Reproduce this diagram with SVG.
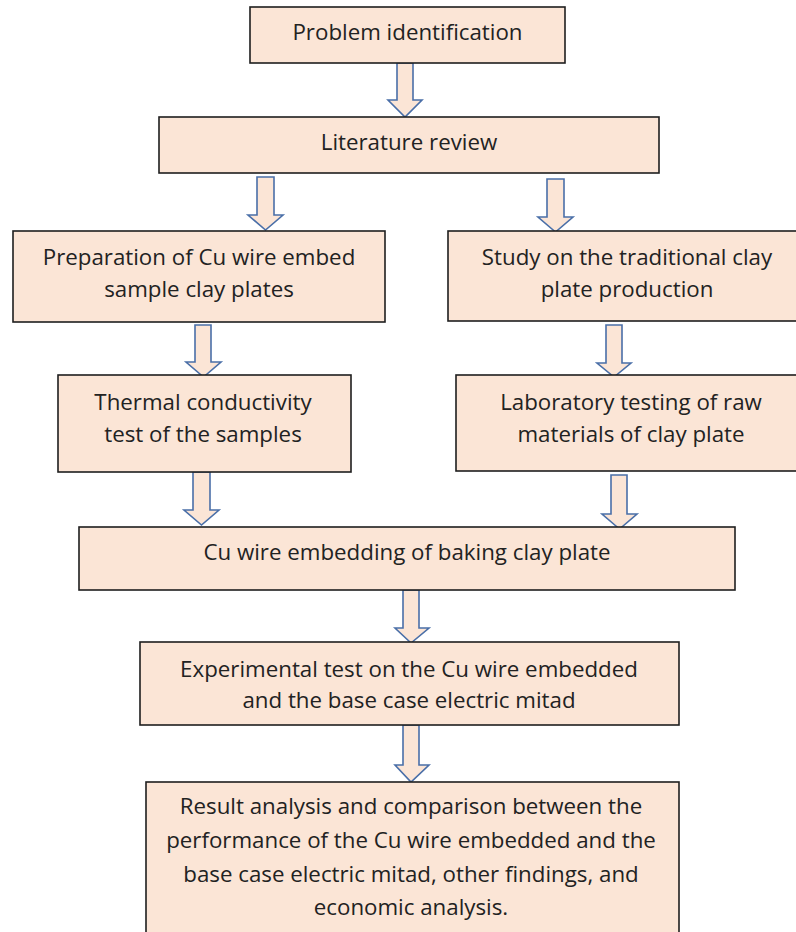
<svg xmlns="http://www.w3.org/2000/svg" width="796" height="932" viewBox="0 0 796 932">
<defs>
<style>
.box{fill:#FBE5D6;stroke:#1f1f1f;stroke-width:1.6}
.arr{fill:#FBE5D6;stroke:#4A6FA8;stroke-width:1.6;stroke-linejoin:miter}
text{font-family:"Open Sans","Noto Sans","Liberation Sans",sans-serif;font-size:22.3px;fill:#222222;text-anchor:middle}
</style>
</defs>
<rect width="796" height="932" fill="#ffffff"/>
<g id="connectors">
<path class="arr" d="M397,63 H413 V100 H422 L405,117 L388,100 H397 Z"/>
<path class="arr" d="M257,177 H274 V215 H283 L265.5,230 L248,215 H257 Z"/>
<path class="arr" d="M547,179 H564 V217 H573 L555.5,232 L538,217 H547 Z"/>
<path class="arr" d="M195,325 H211 V362 H221 L203.5,377 L186,362 H195 Z"/>
<path class="arr" d="M606,325 H622 V363 H631 L614,377 L597,363 H606 Z"/>
<path class="arr" d="M193,472 H210 V510 H219 L201.5,525 L184,510 H193 Z"/>
<path class="arr" d="M611,475 H627 V514 H637 L619.5,529 L602,514 H611 Z"/>
<path class="arr" d="M403,590 H419 V628 H429 L411,643 L395,628 H403 Z"/>
<path class="arr" d="M403,725 H419 V765 H429 L411,782 L395,765 H403 Z"/>
</g>
<g id="n1">
<rect class="box" x="250" y="7" width="315" height="56"/>
<text x="407.5" y="40">Problem identification</text>
</g>
<g id="n2">
<rect class="box" x="159" y="117" width="500" height="56"/>
<text x="409" y="150">Literature review</text>
</g>
<g id="n3">
<rect class="box" x="13" y="231" width="372" height="91"/>
<text x="199" y="265">Preparation of Cu wire embed</text>
<text x="199" y="297">sample clay plates</text>
</g>
<g id="n4">
<rect class="box" x="448" y="231" width="360" height="90"/>
<text x="627" y="265">Study on the traditional clay</text>
<text x="627" y="297">plate production</text>
</g>
<g id="n5">
<rect class="box" x="58" y="375" width="293" height="97"/>
<text x="203" y="410">Thermal conductivity</text>
<text x="203" y="442">test of the samples</text>
</g>
<g id="n6">
<rect class="box" x="456" y="375" width="352" height="96"/>
<text x="631" y="410">Laboratory testing of raw</text>
<text x="631" y="442">materials of clay plate</text>
</g>
<g id="n7">
<rect class="box" x="79" y="527" width="656" height="63"/>
<text x="407" y="560">Cu wire embedding of baking clay plate</text>
</g>
<g id="n8">
<rect class="box" x="140" y="642" width="539" height="83"/>
<text x="409" y="677">Experimental test on the Cu wire embedded</text>
<text x="409" y="708">and the base case electric mitad</text>
</g>
<g id="n9">
<rect class="box" x="146" y="782" width="533" height="160"/>
<text x="411" y="814">Result analysis and comparison between the</text>
<text x="411" y="848">performance of the Cu wire embedded and the</text>
<text x="411" y="882">base case electric mitad, other findings, and</text>
<text x="411" y="915">economic analysis.</text>
</g>
</svg>
